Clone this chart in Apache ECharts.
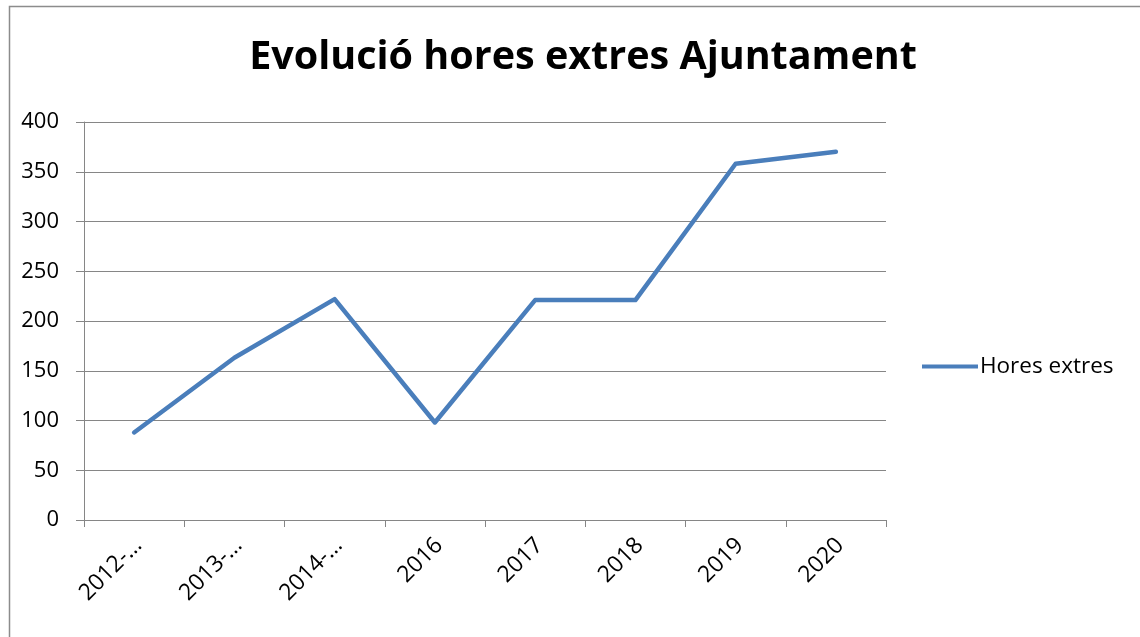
<!DOCTYPE html>
<html>
<head>
<meta charset="utf-8">
<script src="https://cdn.jsdelivr.net/npm/echarts@6/dist/echarts.min.js"></script>
<style>
  html, body { margin: 0; padding: 0; background: #fff; }
  #chart { width: 1140px; height: 637px; }
</style>
</head>
<body>
<div id="chart"></div>
<script>
  // categories (x axis) as shown in the picture
  var anys = ['2012-…', '2013-…', '2014-…', '2016', '2017', '2018', '2019', '2020'];
  // hores extres per any
  var horesExtres = [88, 163, 222, 98, 221, 221, 358, 370];

  var font = 'Open Sans';
  var chart = echarts.init(document.getElementById('chart'));
  var option = {
    animation: false,
    backgroundColor: '#fff',
    title: {
      text: 'Evolució hores extres Ajuntament',
      left: 578,
      textAlign: 'center',
      top: 33,
      textStyle: { fontFamily: font, fontSize: 39.5, fontWeight: 'bold', color: '#000' }
    },
    graphic: [{
      type: 'rect',
      shape: { x: 9.5, y: 6.5, width: 1140, height: 640 },
      style: { fill: null, stroke: '#8c8c8c', lineWidth: 1.5 },
      silent: true
    }],
    legend: {
      left: 917,
      top: 350,
      itemWidth: 56,
      itemHeight: 14,
      itemGap: 4,
      data: [{ name: 'Hores extres', icon: 'path://M0,5 L56,5 L56,9 L0,9 Z' }],
      textStyle: { fontFamily: font, fontSize: 22.5, color: '#000', padding: [0, 0, 0, -3] }
    },
    grid: { left: 84, top: 122, width: 802, height: 398, containLabel: false },
    xAxis: {
      type: 'category',
      data: anys,
      boundaryGap: true,
      axisLine: { lineStyle: { color: '#868686', width: 1 } },
      axisTick: { show: true, length: 7, alignWithLabel: false, lineStyle: { color: '#868686' } },
      axisLabel: {
        rotate: 45, fontFamily: font, fontSize: 23, color: '#000',
        margin: 26, interval: 0, padding: [0, -6, 0, 0]
      },
      splitLine: { show: false }
    },
    yAxis: {
      type: 'value',
      min: 0,
      max: 400,
      interval: 50,
      axisLine: { show: true, lineStyle: { color: '#868686', width: 1 } },
      axisTick: { show: true, length: 8, lineStyle: { color: '#868686' } },
      axisLabel: { fontFamily: font, fontSize: 22, color: '#000', margin: 25 },
      splitLine: { show: true, lineStyle: { color: '#868686', width: 1 } }
    },
    series: [{
      name: 'Hores extres',
      type: 'line',
      data: horesExtres,
      showSymbol: false,
      symbol: 'none',
      lineStyle: { color: '#4a7ebb', width: 4.5, cap: 'round', join: 'round' },
      itemStyle: { color: '#4a7ebb' }
    }]
  };
  chart.setOption(option);
</script>
</body>
</html>
